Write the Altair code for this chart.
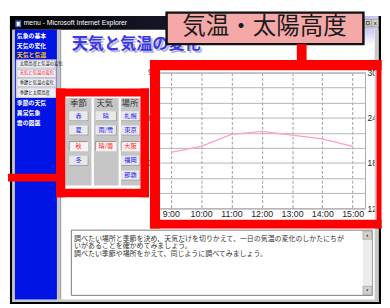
import json
import altair as alt
import pandas as pd

# ---------------- data ----------------
hours = [9, 10, 11, 12, 13, 14, 15]
hour_labels = ["9:00", "10:00", "11:00", "12:00", "13:00", "14:00", "15:00"]
temps = [19.4, 20.2, 21.8, 22.2, 21.7, 21.2, 20.2]
y_grid = [12, 14, 16, 18, 20, 22, 24, 26, 28, 30]
y_tick_labels = [12, 18, 24, 30]
hidden_axis_labels = ["90", "60", "30"]

callout_title = "気温・太陽高度"
page_title = "天気と気温の変化"
window_title = "menu - Microsoft Internet Explorer"
menu_main = ["気象の基本", "天気の変化", "天気と気温", "季節の天気", "異常気象", "雲の図鑑"]
menu_sub = ["太陽高度と気温の変化", "天気と気温の変化", "季節と気温の変化", "季節と太陽高度"]
headers = ["季節", "天気", "場所"]
seasons = ["春", "夏", "秋", "冬"]
weathers = ["晴", "雨/雪", "晴/曇"]
places = ["札幌", "東京", "大阪", "福岡", "那覇"]
selected = ["秋", "晴/曇", "大阪"]
instructions = [
    "\u3000調べたい場所と季節を決め、天気だけを切りかえて、一日の気温の変化のしかたにちが",
    "いがあることを確かめてみましょう。",
    "\u3000調べたい季節や場所をかえて、同じように調べてみましょう。",
]

# ---------------- layout (page pixels) ----------------
PL, PR, PT, PB = 160.6, 372.7, 70.7, 209.3
W, H = PR - PL, PB - PT
JP = "Noto Sans CJK JP"
RED = "#ff0000"

dummy = pd.DataFrame({"a": [0]})


def box(x0, y0, x1, y1, **kw):
    return alt.Chart(dummy).mark_rect(**kw).encode(
        x=alt.value(x0 - PL), x2=alt.value(x1 - PL),
        y=alt.value(y0 - PT), y2=alt.value(y1 - PT))


def label(x, y, text, **kw):
    kw.setdefault("baseline", "middle")
    kw.setdefault("font", JP)
    return alt.Chart(dummy).mark_text(text=text, **kw).encode(
        x=alt.value(x - PL), y=alt.value(y - PT))


def pt(x, y, **kw):
    return alt.Chart(dummy).mark_point(**kw).encode(
        x=alt.value(x - PL), y=alt.value(y - PT))


# ---------------- main line chart ----------------
df = pd.DataFrame({"hour": hours, "temp": temps})
x_expr = json.dumps(hour_labels) + "[datum.value - 9]"
y_expr = "indexof(" + json.dumps(y_tick_labels) + ", datum.value) >= 0 ? datum.label : ''"

main = alt.Chart(df).mark_line(color="#ff9ccc", strokeWidth=1.4).encode(
    x=alt.X("hour:Q",
            scale=alt.Scale(domain=[8.557, 15.41], nice=False, zero=False),
            axis=alt.Axis(values=hours, labelExpr=x_expr, grid=True, gridDash=[3, 2],
                          gridColor="#999999", gridWidth=1, ticks=False, domain=False,
                          labelFontSize=9, labelColor="#222222", labelPadding=1.5,
                          labelFont="Liberation Sans", title=None)),
    y=alt.Y("temp:Q",
            scale=alt.Scale(domain=[12, 30], nice=False, zero=False),
            axis=alt.Axis(orient="right", values=y_grid, labelExpr=y_expr, grid=True,
                          gridColor="#b4b4b4", gridWidth=1, ticks=False, domain=False,
                          labelFontSize=8.6, labelColor="#222222", labelPadding=2,
                          labelFont="Liberation Sans", title=None)),
)

layers = [main]

# ---------------- window frame ----------------
title_grad = {"gradient": "linear", "x1": 0, "x2": 1, "y1": 0, "y2": 0,
              "stops": [{"offset": 0, "color": "#000000"},
                        {"offset": 0.5, "color": "#1a1a30"},
                        {"offset": 1, "color": "#cfcff5"}]}
layers += [
    box(10, 13, 389, 27, fill=title_grad),
    box(10, 13, 12.5, 307, color="#000000"),
    box(12.5, 27, 15, 305, color="#c8c8c8"),
    box(386.5, 13, 389, 307, color="#000000"),
    box(382.5, 27, 386.5, 305, color="#c8c8c8"),
    box(12.5, 302.5, 386.5, 305, color="#c8c8c8"),
    box(10, 305, 389, 307, color="#000000"),
    box(15, 27, 58, 302.5, color="#0014e6"),
    box(58, 27, 62, 302.5, color="#c4c4c4"),
    box(61.5, 27, 62.3, 302.5, color="#8a8a8a"),
    box(371, 27, 382.5, 43, fill={"gradient": "linear", "x1": 0, "x2": 0, "y1": 0, "y2": 1,
                                   "stops": [{"offset": 0, "color": "#cacaf4"},
                                             {"offset": 1, "color": "#ffffff"}]}),
    # window icon and buttons
    box(15.5, 17.5, 21.5, 24.5, color="#4a6cd0"),
    box(17, 19, 20, 23, color="#ffffff"),
    box(372, 16.5, 379, 24, color="#d4d0c8", stroke="#808080", strokeWidth=0.5),
    box(379.5, 16.5, 386.5, 24, color="#d4d0c8", stroke="#808080", strokeWidth=0.5),
    box(374, 18.5, 377, 22, filled=False, stroke="#000000", strokeWidth=0.6),
    label(383, 20.3, "x", fontSize=6, color="#000000", align="center", font="Liberation Sans"),
    label(24, 20.5, window_title, fontSize=7, color="#ffffff", align="left",
          font="Liberation Sans"),
]

# ---------------- sidebar ----------------
main_y = [33.3, 43.3, 52.7, 101.7, 112, 122.7]
for t, yy in zip(menu_main, main_y):
    col = "#ffcc00" if t == "天気と気温" else "#ffffff"
    layers.append(label(17, yy, t, fontSize=6, fontWeight="bold", color=col, align="left"))

layers.append(box(16, 57.3, 57.5, 96.7, color="#eeeef4"))
sub_bounds = [57.3, 66.8, 76.3, 85.8, 96.7]
for i, t in enumerate(menu_sub):
    y0, y1 = sub_bounds[i], sub_bounds[i + 1]
    layers.append(box(17, y0 + 0.6, 57, y1 - 0.6, filled=False, stroke="#a8a8b8",
                      strokeWidth=0.6))
    col = "#ff2020" if t == page_title else "#111111"
    layers.append(label(20, (y0 + y1) / 2, t, fontSize=4.4, color=col, align="left"))

# ---------------- page title ----------------
layers += [
    label(75, 44, page_title, fontSize=16.5, fontWeight="bold", color="#b4b4e0", align="left"),
    label(73, 42, page_title, fontSize=16.5, fontWeight="bold", color="#3a38e4", align="left"),
]

# ---------------- callout ----------------
layers += [
    box(170, 9.5, 371, 41.7, color="#f5a8a8", stroke="#111111", strokeWidth=2.5),
    label(270, 24, callout_title, fontSize=24, color="#1a1a1a", align="center"),
]

# ---------------- button panel ----------------
col_x = [(66.7, 93.3), (95.7, 121), (123.3, 143.5)]
for x0, x1 in col_x:
    layers.append(box(x0, 96.7, x1, 186, color="#c6c6c6"))
head_x = [80, 106.8, 132.5]
for t, hx in zip(headers, head_x):
    layers.append(label(hx, 102, t, fontSize=8.5, color="#333333", align="center"))

btn_x = [(71, 89), (98, 118), (124, 142)]
row_y = [115, 129.5, 146, 160.5, 175.5]
for (bx0, bx1), items in zip(btn_x, [seasons, weathers, places]):
    for t, ry in zip(items, row_y):
        y0, y1 = ry - 4.3, ry + 4.3
        if t in selected:
            layers.append(box(bx0 - 0.8, y0 - 0.8, bx1, y1, color="#8a8a8a"))
            layers.append(box(bx0, y0, bx1 + 0.8, y1 + 0.8, color="#f6f2f2"))
            tc = "#ff2020"
        else:
            layers.append(box(bx0, y0, bx1 + 1, y1 + 1, color="#8a8a8a"))
            layers.append(box(bx0, y0, bx1, y1, color="#e8e8e8", stroke="#ffffff",
                              strokeWidth=0.6))
            tc = "#2424ff"
        layers.append(label((bx0 + bx1) / 2, ry, t, fontSize=6.3, color=tc, align="center"))

# ---------------- instruction text box ----------------
layers += [
    box(72.7, 231.7, 380, 298.3, color="#ffffff", stroke="#7a7a7a", strokeWidth=1),
    box(370.5, 232.5, 379.5, 297.5, color="#ececec"),
    box(370.5, 232.5, 379.5, 241, color="#d4d0c8", stroke="#8a8a8a", strokeWidth=0.5),
    box(370.5, 289, 379.5, 297.5, color="#d4d0c8", stroke="#8a8a8a", strokeWidth=0.5),
    pt(375, 237, shape="triangle-up", size=6, filled=True, color="#000000"),
    pt(375, 293.3, shape="triangle-down", size=6, filled=True, color="#000000"),
]
for t, ly in zip(instructions, [240.5, 248.4, 256.3]):
    layers.append(label(75.5, ly, t, fontSize=7.1, color="#333333", align="left"))

# labels of a chart hidden behind the red frame (only a sliver shows)
for t, ly in zip(hidden_axis_labels, [70.7, 117, 163.3]):
    layers.append(label(161, ly, t, fontSize=9, color="#444444", align="right",
                        font="Liberation Sans"))

# ---------------- red highlight frames ----------------
layers += [
    box(57, 87, 152, 95.3, color=RED),
    box(57, 189.5, 152, 198, color=RED),
    box(57, 87, 66.5, 198, color=RED),
    box(143.3, 87, 152, 198, color=RED),
    box(0, 174, 57, 182, color=RED),
    box(153, 58, 389.5, 68.4, color=RED),
    box(153, 221, 389.5, 230, color=RED),
    box(153, 58, 163.3, 230, color=RED),
    box(384.5, 58, 389.5, 230, color=RED),
    box(303, 41.7, 313, 58, color=RED),
]

chart = alt.layer(*layers).properties(
    width=W, height=H,
    padding={"left": PL - 8, "top": PT - 8, "right": 382 - (PL - 8) - W,
             "bottom": 300 - (PT - 8) - H},
    autosize=alt.AutoSizeParams(type="none"),
    background="#ffffff",
).configure_view(stroke="#a8a8a8", strokeWidth=1)

chart.save("out.html", embed_options={"renderer": "svg", "actions": False})
